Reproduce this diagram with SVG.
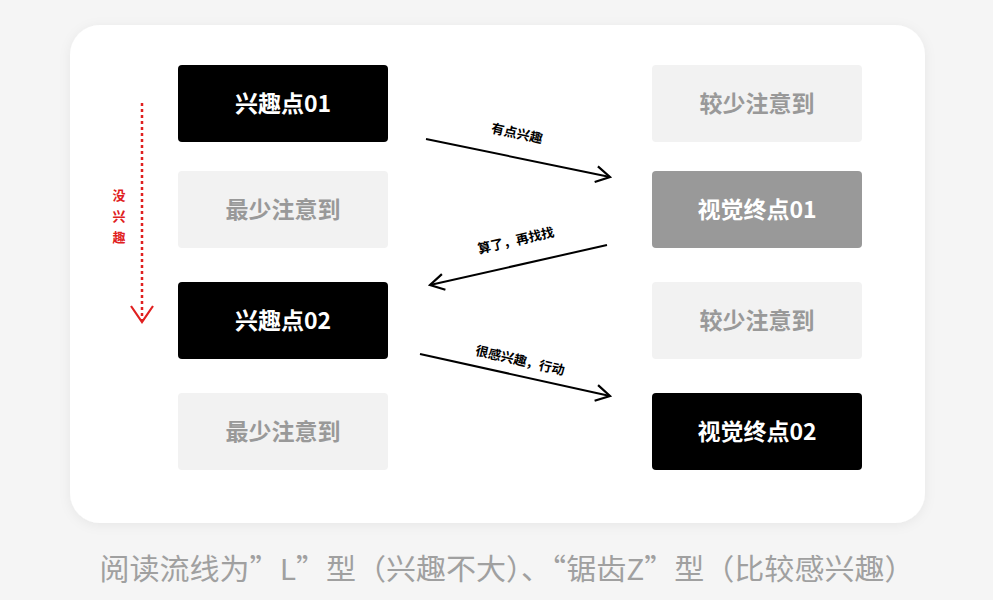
<svg xmlns="http://www.w3.org/2000/svg" width="993" height="600" viewBox="0 0 993 600">
<defs>
<filter id="sh" x="-10%" y="-10%" width="120%" height="120%"><feDropShadow dx="0" dy="2" stdDeviation="6" flood-color="#000" flood-opacity="0.06"/></filter>
<marker id="ah" viewBox="0 0 20 20" refX="18" refY="10" markerWidth="20" markerHeight="20" markerUnits="userSpaceOnUse" orient="auto"><path d="M4,2 L18,10 L4,18" fill="none" stroke="#000" stroke-width="2.2"/></marker>
</defs>
<style>
text{font-family:"Noto Sans CJK SC","Noto Sans",sans-serif;font-weight:bold;text-anchor:middle}
.b{fill:#000}.l{fill:#f2f2f2}.g{fill:#999}
.w{fill:#fff;font-size:23px}.t{fill:#999;font-size:23px}
.lab{font-size:13px;fill:#000}
.c{stroke:#000;stroke-width:2;fill:none}
</style>
<rect width="993" height="600" fill="#f5f5f5"/>
<rect x="70" y="25" width="855" height="498" rx="30" fill="#fff" filter="url(#sh)"/>
<g id="n1"><rect class="b" x="178" y="65" width="210" height="77" rx="4"/><text class="w" x="283" y="112">兴趣点01</text></g>
<g id="n2"><rect class="l" x="178" y="171" width="210" height="77" rx="4"/><text class="t" x="283" y="218">最少注意到</text></g>
<g id="n3"><rect class="b" x="178" y="282" width="210" height="77" rx="4"/><text class="w" x="283" y="329">兴趣点02</text></g>
<g id="n4"><rect class="l" x="178" y="393" width="210" height="77" rx="4"/><text class="t" x="283" y="440">最少注意到</text></g>
<g id="n5"><rect class="l" x="652" y="65" width="210" height="77" rx="4"/><text class="t" x="757" y="112">较少注意到</text></g>
<g id="n6"><rect class="g" x="652" y="171" width="210" height="77" rx="4"/><text class="w" x="757" y="218">视觉终点01</text></g>
<g id="n7"><rect class="l" x="652" y="282" width="210" height="77" rx="4"/><text class="t" x="757" y="329">较少注意到</text></g>
<g id="n8"><rect class="b" x="652" y="393" width="210" height="77" rx="4"/><text class="w" x="757" y="440">视觉终点02</text></g>
<g id="connectors">
<line class="c" x1="426" y1="139" x2="610" y2="177" marker-end="url(#ah)"/>
<line class="c" x1="607" y1="245" x2="430" y2="285" marker-end="url(#ah)"/>
<line class="c" x1="420" y1="354" x2="610" y2="396" marker-end="url(#ah)"/>
<text class="lab" transform="translate(516,138) rotate(12)">有点兴趣</text>
<text class="lab" transform="translate(517,245) rotate(-13)">算了，再找找</text>
<text class="lab" transform="translate(519,365) rotate(13)">很感兴趣，行动</text>
<line x1="142" y1="103" x2="142" y2="321" stroke="#e02020" stroke-width="2.5" stroke-dasharray="3,3"/>
<path d="M131,306 L142,322 L153,306" fill="none" stroke="#e02020" stroke-width="2.2"/>
<text style="font-size:13px;fill:#e02020" x="119" y="200">没</text>
<text style="font-size:13px;fill:#e02020" x="119" y="221">兴</text>
<text style="font-size:13px;fill:#e02020" x="119" y="242">趣</text>
</g>
<text x="507" y="580" textLength="815" lengthAdjust="spacingAndGlyphs" style="font-size:29px;fill:#a0a0a0;font-weight:normal">阅读流线为”L”型（兴趣不大）、“锯齿Z”型（比较感兴趣）</text>
</svg>
